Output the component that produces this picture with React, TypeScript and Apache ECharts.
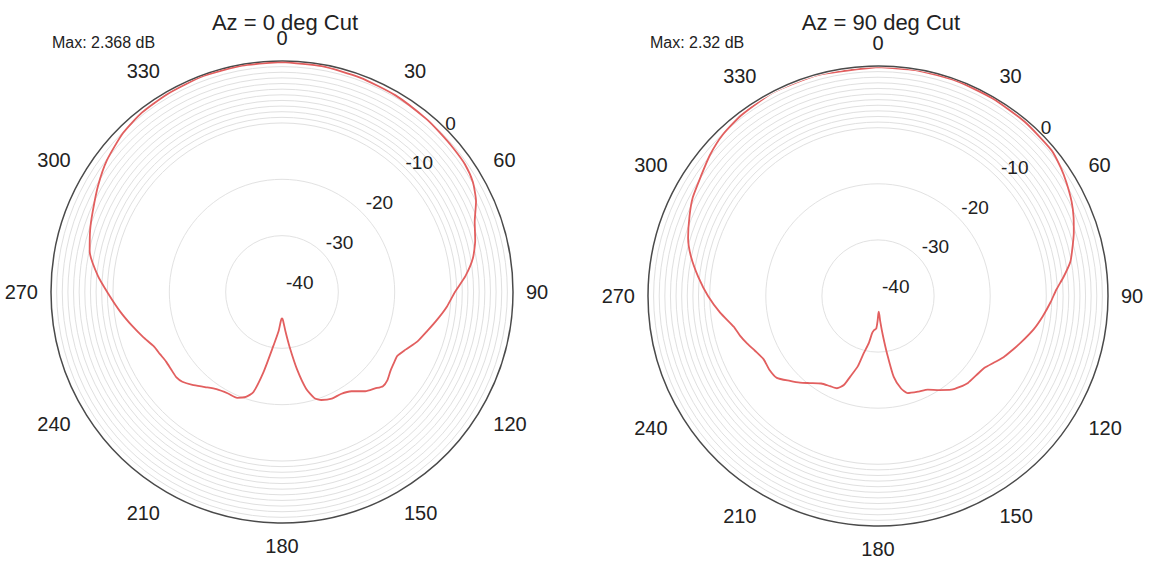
import React, { useEffect, useRef } from 'react';
import * as echarts from 'echarts';

// Az = 0 deg cut: compass angle (deg, clockwise from top) and gain (dB)
const cut0Angles = [0, 10, 20, 30, 40, 45, 50, 55, 60, 65, 70, 75, 80, 85, 90, 95, 100, 105, 110, 115, 119, 122, 126, 130, 133, 136, 140, 145, 150, 155, 160, 163, 166, 169, 172, 175, 178, 180, 182, 185, 189, 193, 196, 199, 203, 208, 214, 219, 224, 228, 231, 235, 239, 243, 247, 252, 257, 263, 269, 275, 282, 288, 293, 300, 307, 315, 322, 330, 340, 350, 360];
const cut0Gain = [0.8, 0.7, 0.5, 0.3, 0.0, -0.2, -0.3, -0.4, -0.9, -2.0, -3.6, -4.5, -5.6, -7.3, -9.3, -10.6, -12.0, -13.3, -14.4, -15.8, -16.6, -16.5, -16.2, -15.6, -15.5, -16.2, -17.0, -18.5, -19.1, -19.1, -19.6, -20.3, -22.3, -26.0, -30.0, -33.0, -35.0, -35.3, -35.0, -33.0, -30.4, -25.4, -21.5, -20.3, -19.6, -19.6, -19.2, -18.3, -17.1, -16.2, -15.9, -16.0, -16.0, -15.7, -15.3, -14.1, -12.8, -11.1, -9.3, -7.2, -5.1, -4.2, -3.5, -2.3, -1.1, -0.1, 0.4, 0.6, 0.8, 0.8, 0.8];

// Az = 90 deg cut
const cut90Angles = [0, 10, 20, 30, 40, 50, 55, 59, 64, 68, 72, 77, 80, 84, 88, 92, 97, 102, 108, 112, 116, 120, 124, 129, 134, 138, 142, 147, 152, 157, 163, 166, 169, 171, 173, 175, 177, 179, 181, 183, 185, 187, 189, 191, 194, 196, 199, 201, 204, 208, 213, 218, 222, 226, 231, 236, 241, 246, 250, 254, 258, 264, 270, 276, 282, 287, 293, 298, 304, 310, 316, 323, 333, 345, 360];
const cut90Gain = [0.8, 0.8, 0.8, 0.7, 0.6, 0.4, -0.2, -0.8, -1.6, -2.4, -3.3, -4.5, -5.2, -6.7, -8.2, -9.2, -10.4, -11.6, -13.2, -14.2, -15.1, -16.2, -17.1, -17.5, -17.7, -18.2, -18.8, -20.0, -21.1, -21.5, -21.9, -23.0, -25.3, -29.5, -33.0, -35.5, -37.2, -36.8, -35.5, -34.2, -34.0, -33.8, -33.3, -31.5, -29.5, -27.0, -24.8, -23.0, -22.0, -21.8, -21.4, -20.3, -19.2, -18.2, -16.8, -16.6, -16.7, -16.0, -15.2, -14.4, -13.7, -11.7, -9.7, -7.8, -5.9, -4.6, -3.5, -2.6, -1.9, -0.9, -0.1, 0.4, 0.8, 0.8, 0.8];

const titles = ['Az = 0 deg Cut', 'Az = 90 deg Cut'];
const maxTexts = ['Max: 2.368 dB', 'Max: 2.32 dB'];
const radiusLabels = [-40, -30, -20, -10, 0];
const angleLabelStep = 30;
const RMIN = -40;
const RMAX = 1;

const FONT = "'Liberation Sans', Arial, sans-serif";

function toAxisAngle(a: number) {
  return a < 45 ? a + 360 : a;
}

function buildData(angles: number[], gains: number[]) {
  return angles.map((a, i) => [gains[i], toAxisAngle(a)]);
}

function splitColors() {
  const cols: string[] = [];
  for (let v = RMIN; v <= RMAX; v++) {
    if (v === -30 || v === -20) cols.push('#e2e2e2');
    else if (v >= -10 && v <= 0) cols.push('#e0e0e0');
    else cols.push('rgba(0,0,0,0)');
  }
  return cols;
}

export default function App() {
  const ref = useRef<HTMLDivElement>(null);
  useEffect(() => {
    if (!ref.current) return;
    const chart = echarts.init(ref.current, undefined, { renderer: 'svg' });
    const polars = [
      { center: [282, 292], radius: 231 },
      { center: [878, 296], radius: 230 },
    ];
    const titleX = [285, 881];
    const maxX = [52, 650];
    const colors = splitColors();
    const option: any = {
      animation: false,
      backgroundColor: '#ffffff',
      title: [
        ...titles.map((t, i) => ({
          text: t, left: titleX[i], top: 11, textAlign: 'center', padding: 0,
          textStyle: { fontSize: 22, fontWeight: 'normal', color: '#222', fontFamily: FONT },
        })),
        ...maxTexts.map((t, i) => ({
          text: t, left: maxX[i], top: 34, padding: 0,
          textStyle: { fontSize: 16, fontWeight: 'normal', color: '#222', fontFamily: FONT },
        })),
      ],
      polar: polars,
      angleAxis: polars.map((_, i) => ({
        polarIndex: i,
        type: 'value',
        startAngle: 45,
        clockwise: true,
        min: 45,
        max: 405,
        interval: 15,
        axisLine: { show: true, lineStyle: { color: '#4a4a4a', width: 1.5 } },
        axisTick: { show: false },
        splitLine: { show: false },
        axisLabel: {
          margin: 13,
          fontSize: 20,
          color: '#222',
          fontFamily: FONT,
          formatter: (v: number) => {
            const r = Math.round(v);
            return r % angleLabelStep === 0 ? String(r % 360) : '';
          },
        },
      })),
      radiusAxis: polars.map((_, i) => ({
        polarIndex: i,
        type: 'value',
        min: RMIN,
        max: RMAX,
        interval: 1,
        axisLine: { show: false },
        axisTick: { show: false },
        axisLabel: {
          margin: 0,
          align: 'left',
          verticalAlign: 'bottom',
          padding: [0, 0, 0, 4],
          fontSize: 19,
          color: '#222',
          fontFamily: FONT,
          formatter: (v: number) => {
            const r = Math.round(v);
            return radiusLabels.indexOf(r) >= 0 ? String(r) : '';
          },
        },
        splitLine: { show: true, lineStyle: { color: colors, width: 1 } },
      })),
      series: [
        {
          type: 'line', coordinateSystem: 'polar', polarIndex: 0,
          data: buildData(cut0Angles, cut0Gain),
          showSymbol: false, smooth: 0.2,
          lineStyle: { color: '#e25f5f', width: 1.8 },
        },
        {
          type: 'line', coordinateSystem: 'polar', polarIndex: 1,
          data: buildData(cut90Angles, cut90Gain),
          showSymbol: false, smooth: 0.2,
          lineStyle: { color: '#e25f5f', width: 1.8 },
        },
      ],
    };
    chart.setOption(option);
    return () => chart.dispose();
  }, []);
  return (
    <div
      ref={ref}
      style={{ position: 'fixed', left: 0, top: 0, width: 1152, height: 562, background: '#fff' }}
    />
  );
}
